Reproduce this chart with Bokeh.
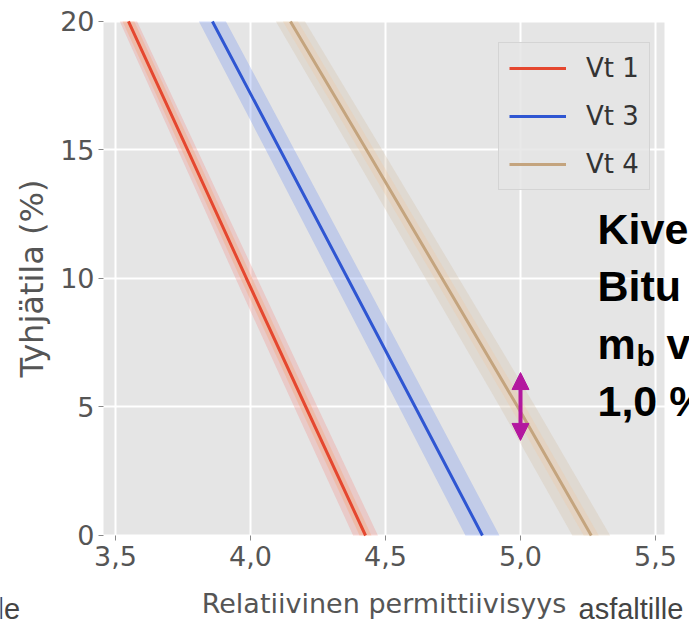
from bokeh.plotting import figure
from bokeh.models import (Range1d, FixedTicker, Legend, LegendItem, Label, Arrow,
                          NormalHead, BoxAnnotation)
from bokeh.embed import file_html
from bokeh.resources import INLINE

# ---- data ----
void_levels = [0, 5, 10, 15, 20]                 # Tyhjätila (%)
vt1_eps = [4.426, 4.205, 3.985, 3.767, 3.548]    # line x at each level
vt3_eps = [4.859, 4.610, 4.360, 4.110, 3.859]
vt4_eps = [5.262, 4.990, 4.710, 4.430, 4.148]

vt1_outer_lo = [4.380, 4.162, 3.945, 3.731, 3.516]
vt1_outer_hi = [4.472, 4.248, 4.025, 3.803, 3.580]
vt1_inner_lo = [4.404, 4.183, 3.963, 3.745, 3.526]
vt1_inner_hi = [4.448, 4.227, 4.007, 3.789, 3.570]

vt3_lo = [4.796, 4.550, 4.303, 4.057, 3.809]
vt3_hi = [4.922, 4.670, 4.417, 4.163, 3.909]

vt4_outer_lo = [5.192, 4.924, 4.648, 4.372, 4.094]
vt4_outer_hi = [5.332, 5.056, 4.772, 4.488, 4.202]
vt4_inner_lo = [5.234, 4.962, 4.682, 4.402, 4.120]
vt4_inner_hi = [5.290, 5.018, 4.738, 4.458, 4.176]

series_names = ["Vt 1", "Vt 3", "Vt 4"]
x_ticks = [3.5, 4.0, 4.5, 5.0, 5.5]
x_tick_labels = ["3,5", "4,0", "4,5", "5,0", "5,5"]
y_ticks = [0, 5, 10, 15, 20]

arrow_x = 5.0
arrow_y = [3.70, 6.34]

# axes extent of the (cropped) matplotlib panel
X_LO, X_HI = 3.4556, 5.5333
Y_LO, Y_HI = 0, 20

RED = "#E5472F"
BLUE = "#2F56D2"
TAN = "#C4A47E"
MAG = "#B3179F"

# The frame covers the whole canvas so that the overlay texts are not clipped;
# axes are pinned to the panel edges with fixed_location.
p = figure(width=689, height=625, output_backend="svg", toolbar_location=None,
           x_range=Range1d(3.0741, 5.6259), y_range=Range1d(-3.502, 20.817),
           min_border=0, min_border_left=0, min_border_right=0,
           min_border_top=0, min_border_bottom=0)
p.background_fill_color = "white"
p.border_fill_color = "white"
p.outline_line_color = None

p.add_layout(BoxAnnotation(left=X_LO, right=X_HI, bottom=Y_LO, top=Y_HI,
                           fill_color="#E5E5E5", fill_alpha=1.0, line_color=None,
                           level="image"))

p.xgrid.ticker = FixedTicker(ticks=x_ticks)
p.ygrid.ticker = FixedTicker(ticks=y_ticks)
p.xgrid.bounds = (Y_LO, Y_HI)
p.ygrid.bounds = (X_LO, X_HI)
p.grid.grid_line_color = "white"
p.grid.grid_line_width = 2

p.xaxis.ticker = FixedTicker(ticks=x_ticks)
p.xaxis.major_label_overrides = dict(zip(x_ticks, x_tick_labels))
p.yaxis.ticker = FixedTicker(ticks=y_ticks)
p.xaxis.fixed_location = Y_LO
p.yaxis.fixed_location = X_LO
p.xaxis.bounds = (X_LO, X_HI)
p.yaxis.bounds = (Y_LO, Y_HI)
for ax in (p.xaxis, p.yaxis):
    ax.axis_line_color = None
    ax.major_tick_line_color = "#888888"
    ax.major_tick_in = 0
    ax.major_tick_out = 5
    ax.minor_tick_line_color = None
    ax.major_label_text_font = "DejaVu Sans"
    ax.major_label_text_font_size = "27px"
    ax.major_label_text_color = "#555555"
    ax.axis_label_text_font = "DejaVu Sans"
    ax.axis_label_text_font_style = "normal"
    ax.axis_label_text_color = "#555555"
p.xaxis.axis_label = "Relatiivinen permittiivisyys"
p.xaxis.axis_label_text_font_size = "27px"
p.xaxis.major_label_standoff = 6
p.xaxis.axis_label_standoff = 18
p.yaxis.axis_label = "Tyhjätila (%)"
p.yaxis.axis_label_text_font_size = "32px"
p.yaxis.major_label_standoff = 4
p.yaxis.axis_label_standoff = 6

# bands
p.harea(x1=vt1_outer_lo, x2=vt1_outer_hi, y=void_levels, fill_color="#F28A84", fill_alpha=0.3)
p.harea(x1=vt1_inner_lo, x2=vt1_inner_hi, y=void_levels, fill_color="#F5A070", fill_alpha=0.35)
p.harea(x1=vt3_lo, x2=vt3_hi, y=void_levels, fill_color="#6D8FEF", fill_alpha=0.3)
p.harea(x1=vt4_outer_lo, x2=vt4_outer_hi, y=void_levels, fill_color="#D2BC9E", fill_alpha=0.28)
p.harea(x1=vt4_inner_lo, x2=vt4_inner_hi, y=void_levels, fill_color="#F0C49A", fill_alpha=0.28)

r1 = p.line(vt1_eps, void_levels, line_color=RED, line_width=3)
r3 = p.line(vt3_eps, void_levels, line_color=BLUE, line_width=3)
r4 = p.line(vt4_eps, void_levels, line_color=TAN, line_width=3)

legend = Legend(items=[LegendItem(label=series_names[0], renderers=[r1]),
                       LegendItem(label=series_names[1], renderers=[r3]),
                       LegendItem(label=series_names[2], renderers=[r4])],
                location=(498, 435), orientation="vertical",
                background_fill_color="#E5E5E5", background_fill_alpha=0.85,
                border_line_color="#D0D0D0", border_line_alpha=0.8,
                label_text_font="DejaVu Sans", label_text_font_size="26px",
                label_text_color="#333333", glyph_width=57, glyph_height=30,
                label_height=30, label_standoff=20, spacing=18, padding=10, margin=0)
p.add_layout(legend)

head_kw = dict(size=17, fill_color=MAG, line_color=MAG)
p.add_layout(Arrow(x_start=arrow_x, y_start=arrow_y[0], x_end=arrow_x, y_end=arrow_y[1],
                   start=NormalHead(**head_kw), end=NormalHead(**head_kw),
                   line_color=MAG, line_width=4))

# overlay texts (screen px: x from left, y from bottom of the canvas)
big = dict(x_units="screen", y_units="screen", text_font="Liberation Sans",
           text_font_style="bold", text_color="black", text_baseline="alphabetic")
p.add_layout(Label(x=597, y=397, text="Kive", text_font_size="43px", **big))
p.add_layout(Label(x=597, y=340, text="Bitu", text_font_size="43px", **big))
p.add_layout(Label(x=597, y=282, text="m", text_font_size="43px", **big))
p.add_layout(Label(x=636, y=270, text="b", text_font_size="30px", **big))
p.add_layout(Label(x=666, y=282, text="v", text_font_size="43px", **big))
p.add_layout(Label(x=597, y=225, text="1,0 %", text_font_size="43px", **big))

small = dict(x_units="screen", y_units="screen", text_font="Liberation Sans",
             text_color="#444444", text_baseline="alphabetic", text_font_size="29px")
p.add_layout(Label(x=578, y=17, text="asfaltille", **small))
p.add_layout(Label(x=-3, y=17, text="le", **small))

open("out.html", "w").write(file_html(p, INLINE))
